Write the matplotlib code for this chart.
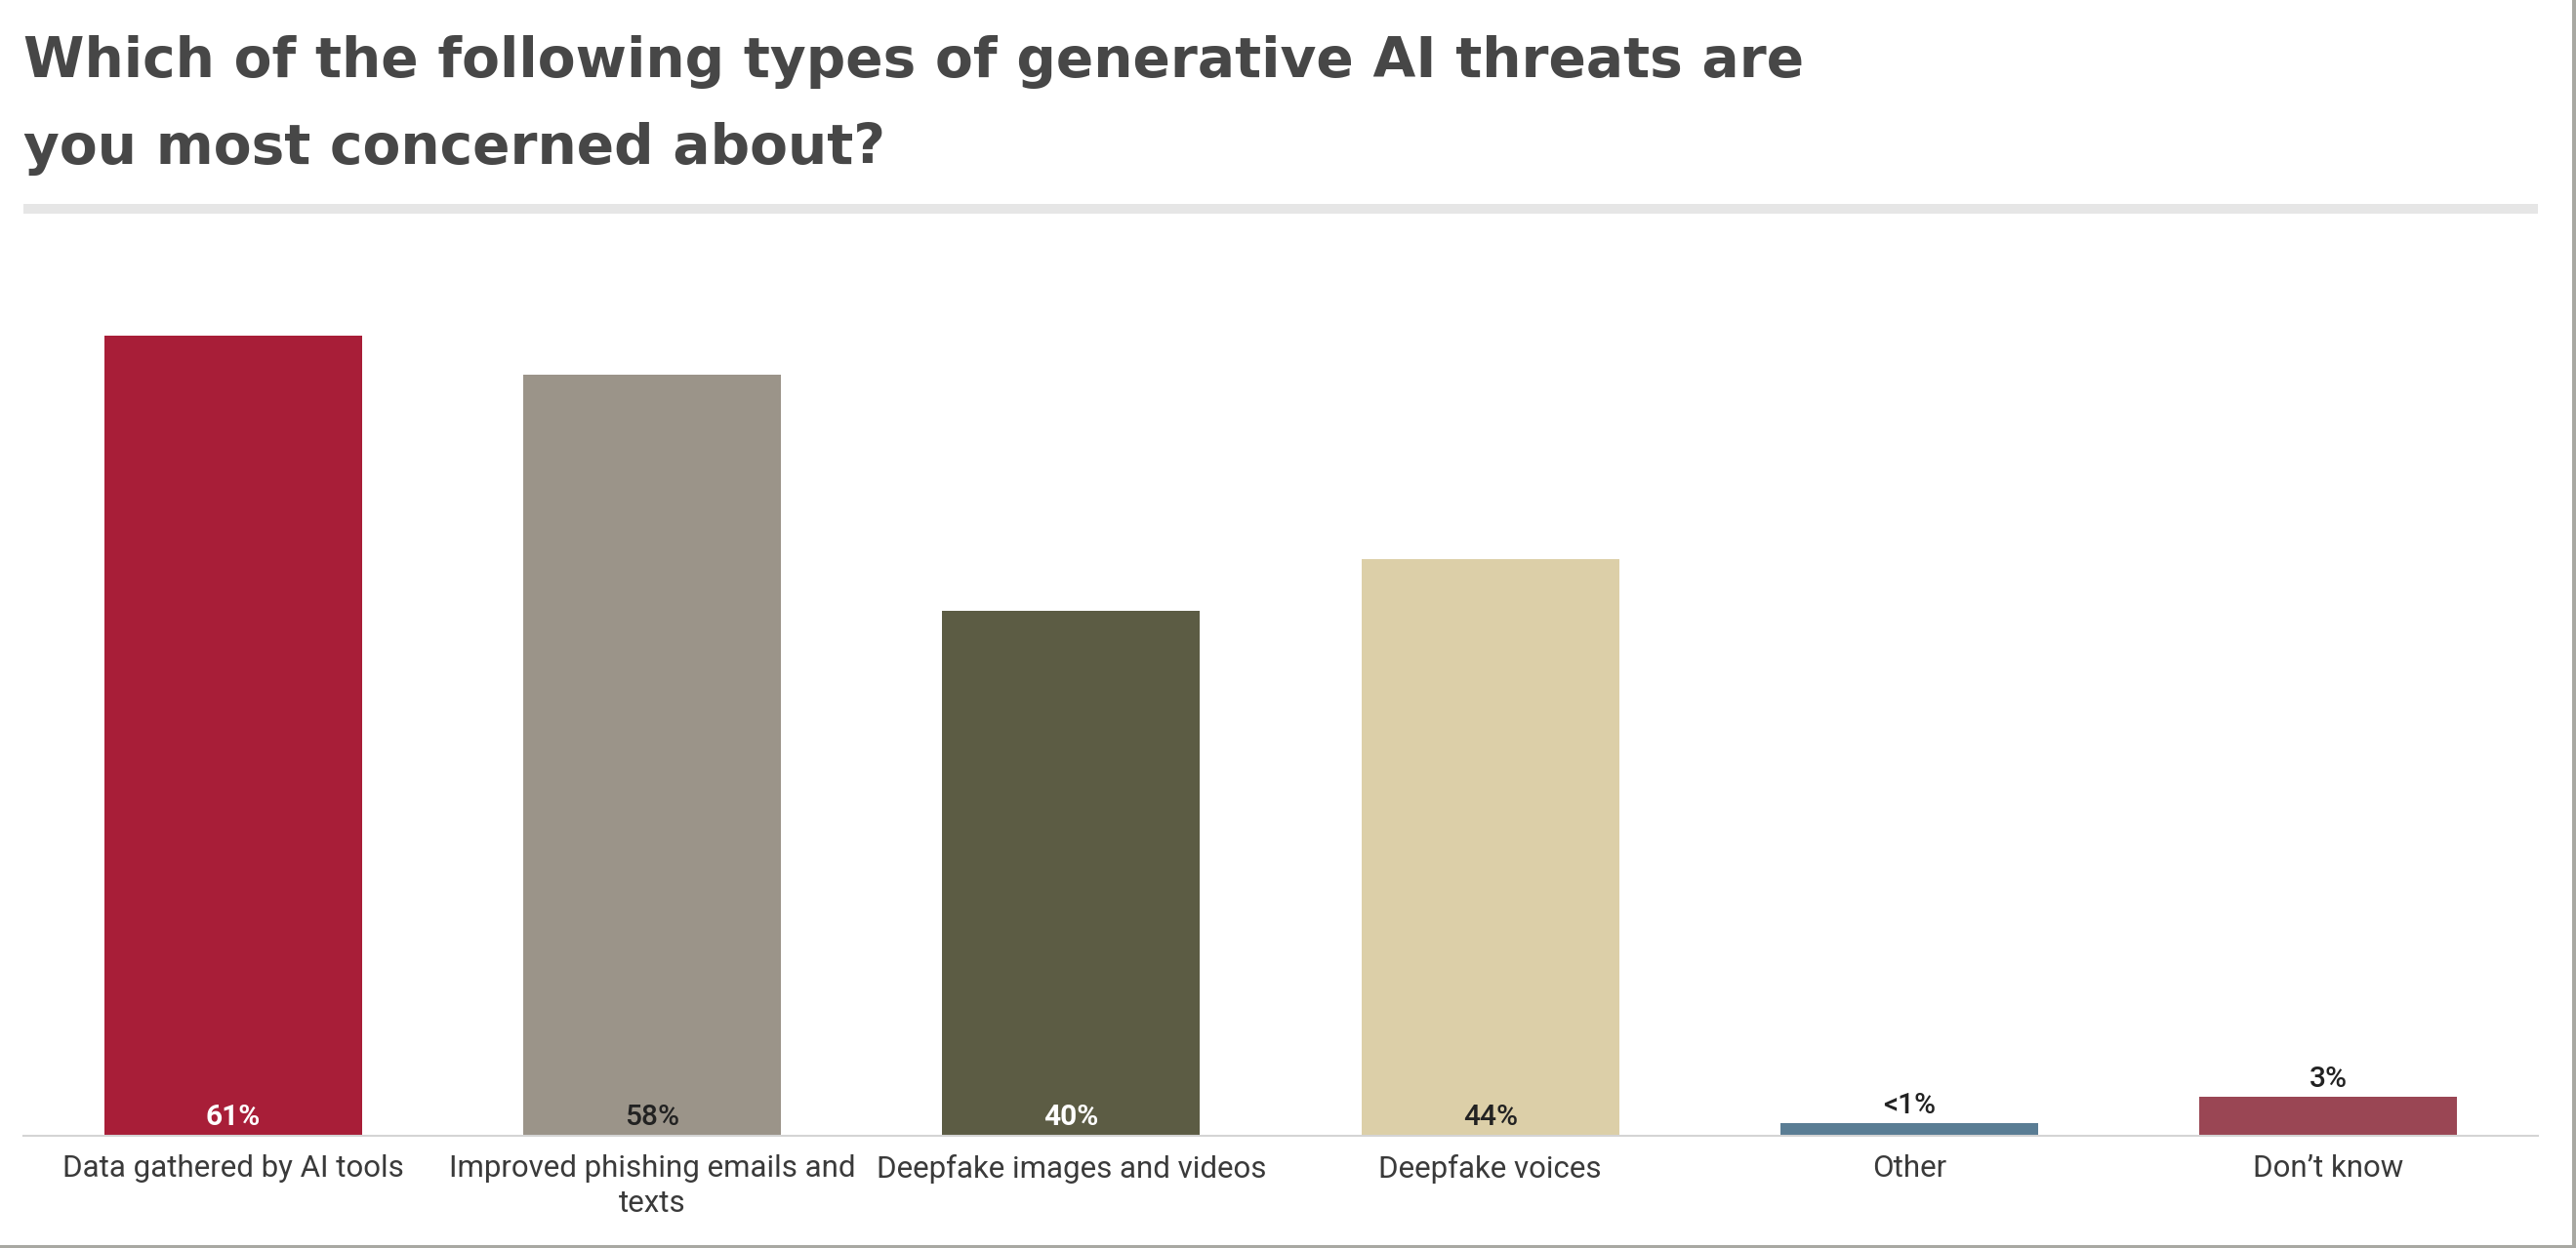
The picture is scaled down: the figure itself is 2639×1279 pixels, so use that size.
import matplotlib
matplotlib.use('Agg')
import matplotlib.pyplot as plt
from matplotlib.patches import Rectangle

# ─── Data ───────────────────────────────────────────────────────────────────
categories = ['Data gathered by AI tools', 'Improved phishing emails and\ntexts',
              'Deepfake images and videos', 'Deepfake voices', 'Other', "Don\u2019t know"]
values = [61, 58, 40, 44, 1, 3]
value_labels = ['61%', '58%', '40%', '44%', '<1%', '3%']
bar_colors = ['#a81e38', '#9b9489', '#5c5c44', '#dccfa8', '#5a7d94', '#9a4654']
label_colors = ['white', '#222222', 'white', '#222222', '#222222', '#222222']

TITLE_1 = 'Which of the following types of generative AI threats are'
TITLE_2 = 'you most concerned about?'

W, H = 2639, 1279
fig = plt.figure(figsize=(W / 100, H / 100), dpi=100)
fig.patch.set_facecolor('white')

# ─── Title + grey rule ──────────────────────────────────────────────────────
title_kw = dict(family='DejaVu Sans', fontweight='bold', fontsize=40.8,
                color='#474747', ha='left', va='baseline')
fig.text(24 / W, 1 - 79 / H, TITLE_1, **title_kw)
fig.text(24 / W, 1 - 168 / H, TITLE_2, **title_kw)
fig.patches.append(Rectangle((24 / W, 1 - 219 / H), (2600 - 24) / W, 10 / H,
                             transform=fig.transFigure, facecolor='#e6e6e6',
                             edgecolor='none'))

# ─── Bars ───────────────────────────────────────────────────────────────────
ax = fig.add_axes([24 / W, 1 - 1164 / H, (2600 - 24) / W, 873.6 / H])
x = range(len(categories))
bars = ax.bar(x, values, width=0.615, color=bar_colors, zorder=2)
ax.set_xlim(-0.5, len(categories) - 0.5)
ax.set_ylim(0, 65)

for rect, v, lab, c in zip(bars, values, value_labels, label_colors):
    cx = rect.get_x() + rect.get_width() / 2
    # big bars carry the label inside at the foot, small ones just above the top
    if v >= 10:
        xy, dy = (cx, 0), 19
    else:
        xy, dy = (cx, v), 18
    ax.annotate(lab, xy, xytext=(0, dy), textcoords='offset pixels',
                ha='center', va='center', fontsize=21.5, family='Roboto',
                fontweight='bold' if c == 'white' else 'medium', color=c)

ax.set_xticks(list(x))
ax.set_xticklabels(categories, fontsize=22.5, family='Roboto', color='#3a3a3a',
                   linespacing=1.3)
ax.tick_params(axis='x', length=0, pad=14)
ax.set_yticks([])
for s in ['top', 'right', 'left']:
    ax.spines[s].set_visible(False)
ax.spines['bottom'].set_color('#d4d4d4')
ax.spines['bottom'].set_linewidth(1.5)
ax.set_facecolor('none')

# ─── Frame shadow on right / bottom edges ───────────────────────────────────
fig.patches.append(Rectangle((1 - 4 / W, 0), 4 / W, 1, transform=fig.transFigure,
                             facecolor='#a8a8a2', edgecolor='none'))
fig.patches.append(Rectangle((0, 0), 1, 3 / H, transform=fig.transFigure,
                             facecolor='#a8a8a2', edgecolor='none'))

fig.savefig('out.png', dpi=100, facecolor='white')
